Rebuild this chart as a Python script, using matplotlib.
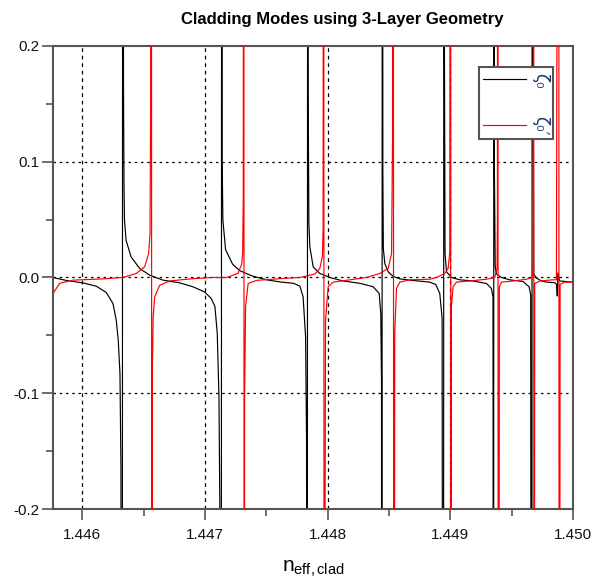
import matplotlib
matplotlib.use('Agg')
import matplotlib.pyplot as plt
from matplotlib import font_manager
from matplotlib.ticker import MultipleLocator, FormatStrFormatter

# ---- data (y values of +/-1 mark the off-scale jump at a pole) ----
black_x = [1.445761, 1.445867, 1.446006, 1.446114, 1.446196, 1.446250, 1.446277, 1.446293,
           1.446307, 1.446315, 1.446325, 1.446330,
           1.446336, 1.446340, 1.446344, 1.446357, 1.446398, 1.446467, 1.446549, 1.446658,
           1.446793, 1.446901, 1.446996, 1.447050, 1.447081, 1.447100, 1.447114, 1.447125,
           1.447132, 1.447137,
           1.447140, 1.447146, 1.447168, 1.447225, 1.447282, 1.447380, 1.447502, 1.447624,
           1.447722, 1.447774, 1.447800, 1.447820, 1.447828, 1.447833, 1.447838,
           1.447841, 1.447847, 1.447855, 1.447882, 1.447936, 1.448018, 1.448126, 1.448262,
           1.448371, 1.448420, 1.448433, 1.448439, 1.448442, 1.448446,
           1.448450, 1.448454, 1.448466, 1.448493, 1.448534, 1.448588, 1.448670, 1.448833,
           1.448881, 1.448914, 1.448933, 1.448943, 1.448949,
           1.448952, 1.448957, 1.448969, 1.449009, 1.449077, 1.449185, 1.449295, 1.449335,
           1.449348, 1.449352, 1.449356,
           1.449358, 1.449366, 1.449376, 1.449417, 1.449484, 1.449593, 1.449642, 1.449655,
           1.449664, 1.449668,
           1.449671, 1.449674, 1.449680, 1.449702, 1.449743, 1.449783, 1.449851, 1.449866,
           1.449872, 1.449877, 1.449891, 1.450000]
black_y = [0.0, -0.0025, -0.0047, -0.0075, -0.013, -0.0225, -0.037, -0.054,
           -0.083, -0.164, -1.0, 1.0,
           0.159, 0.078, 0.0495, 0.032, 0.0178, 0.0078, 0.002, -0.0023,
           -0.0046, -0.008, -0.0124, -0.018, -0.025, -0.048, -0.103, -0.25,
           -1.0, 1.0,
           0.101, 0.0495, 0.024, 0.0115, 0.006, 0.0015, -0.002, -0.004,
           -0.005, -0.0075, -0.0168, -0.051, -0.14, -1.0, 1.0,
           0.163, 0.047, 0.0265, 0.0092, 0.0035, 0.0, -0.003, -0.005,
           -0.008, -0.0138, -0.031, -0.089, -1.0, 1.0,
           0.0927, 0.025, 0.012, 0.0049, 0.001, -0.0012, -0.0023, -0.004,
           -0.006, -0.0138, -0.035, -1.0, 1.0,
           0.198, 0.0207, 0.0049, 0.0, -0.002, -0.003, -0.0052, -0.0095,
           -0.0168, -1.0, 1.0,
           0.110, 0.0092, 0.003, 0.0, -0.002, -0.0035, -0.008, -0.015,
           -1.0, 1.0,
           0.25, 0.25, 0.003, -0.0005, -0.003, -0.004, -0.0045, -0.006,
           -0.016, 0.004, -0.003, -0.004]

red_x = [1.445761, 1.445816, 1.445924, 1.446169, 1.446332, 1.446440, 1.446508, 1.446541,
         1.446552, 1.446557, 1.446562, 1.446568,
         1.446570, 1.446578, 1.446590, 1.446631, 1.446712, 1.446902, 1.447065, 1.447176,
         1.447269, 1.447299, 1.447307, 1.447312, 1.447316, 1.447320,
         1.447323, 1.447331, 1.447352, 1.447421, 1.447611, 1.447774, 1.447896, 1.447936,
         1.447957, 1.447963, 1.447967, 1.447972,
         1.447977, 1.447983, 1.448004, 1.448045, 1.448181, 1.448317, 1.448425, 1.448493,
         1.448521, 1.448529, 1.448534, 1.448540,
         1.448547, 1.448561, 1.448588, 1.448670, 1.448833, 1.448887, 1.448955, 1.448982,
         1.448996, 1.449001, 1.449006,
         1.449009, 1.449022, 1.449050, 1.449158, 1.449295, 1.449362, 1.449381, 1.449384,
         1.449387, 1.449391,
         1.449400, 1.449417, 1.449511, 1.449620, 1.449669, 1.449676, 1.449679, 1.449682,
         1.449688, 1.449729, 1.449837, 1.449865, 1.449883, 1.449888,
         1.449895, 1.449932, 1.450000]
red_y = [-0.0138, -0.005, -0.0023, -0.0012, 0.0, 0.0035, 0.0092, 0.0207,
         0.038, 0.147, 1.0, -1.0,
         -0.086, -0.034, -0.0168, -0.0067, -0.003, -0.001, 0.0, 0.0,
         0.0035, 0.0115, 0.0207, 0.0674, 1.0, -1.0,
         -0.1046, -0.025, -0.0052, -0.0025, -0.001, 0.0, 0.003, 0.0078,
         0.018, 0.042, 1.0, -1.0,
         -0.3, -0.037, -0.008, -0.004, -0.002, 0.0, 0.0035, 0.0078,
         0.0207, 0.1215, 1.0, -1.0,
         -0.048, -0.0095, -0.004, -0.002, -0.0015, 0.0, 0.0035, 0.0078,
         0.022, 1.0, -1.0,
         -0.025, -0.008, -0.004, -0.003, -0.0015, 0.0, 0.0078, 0.052,
         1.0, -1.0,
         -0.008, -0.004, -0.003, -0.0015, 0.0, 0.01, 1.0, -1.0,
         -0.0052, -0.003, -0.002, -0.002, 1.0, -1.0,
         -0.006, -0.004, -0.004]

x_ticks = [1.446, 1.447, 1.448, 1.449, 1.450]
y_ticks = [-0.2, -0.1, 0.0, 0.1, 0.2]
x_range = [1.445761, 1.450]
y_range = [-0.2, 0.2]
title_text = "Cladding Modes using 3-Layer Geometry"
xlabel_text = r"n$_{\mathregular{eff,clad}}$"
series_labels = ["ζ₀", "ζ₀′"]

# ---- styling ----
plt.rcParams['axes.unicode_minus'] = False
avail = {f.name for f in font_manager.fontManager.ttflist}
base_font = 'Liberation Sans' if 'Liberation Sans' in avail else 'DejaVu Sans'
title_font = 'Liberation Sans Narrow' if 'Liberation Sans Narrow' in avail else base_font
plt.rcParams['font.family'] = [base_font, 'DejaVu Sans']
plt.rcParams['mathtext.fontset'] = 'custom'
plt.rcParams['mathtext.rm'] = base_font
plt.rcParams['mathtext.it'] = base_font

spine_col = '#555555'
fig = plt.figure(figsize=(5.92, 5.85), dpi=100)
ax = fig.add_axes([0.0895, 0.1299, 0.8784, 0.7915])

for v in x_ticks[:-1]:
    ax.axvline(v, color='black', lw=0.9, ls=(0, (3, 3)), zorder=1)
for v in y_ticks[1:-1]:
    ax.axhline(v, color='black', lw=0.9, ls=(0, (2, 3)), zorder=1)

l1, = ax.plot(black_x, black_y, color='black', lw=0.85, zorder=2)
l2, = ax.plot(red_x, red_y, color='#ff0000', lw=0.85, zorder=3)

ax.set_xlim(x_range)
ax.set_ylim(y_range)
ax.set_xticks(x_ticks)
ax.set_yticks(y_ticks)
ax.xaxis.set_minor_locator(MultipleLocator(0.0005))
ax.yaxis.set_minor_locator(MultipleLocator(0.05))
ax.xaxis.set_major_formatter(FormatStrFormatter('%.3f'))
ax.yaxis.set_major_formatter(FormatStrFormatter('%.1f'))
ax.tick_params(which='major', direction='out', length=8, width=1.2, color=spine_col,
               labelsize=11, labelcolor='#111111')
ax.tick_params(which='minor', direction='out', length=5, width=1.2, color=spine_col)
ax.tick_params(axis='x', which='major', pad=6)
ax.tick_params(axis='y', which='major', pad=2)
for s in ax.spines.values():
    s.set_color(spine_col)
    s.set_linewidth(1.5)

fig.text(0.578, 0.966, title_text, ha='center', va='center', fontsize=12,
         fontweight='bold', family=[title_font, 'DejaVu Sans'])
ax.set_xlabel(xlabel_text, fontsize=15, labelpad=12)

leg = ax.legend([l1, l2], series_labels, loc='upper right',
                bbox_to_anchor=(0.962, 0.955), borderaxespad=0, frameon=True,
                fancybox=False, framealpha=1, edgecolor=spine_col, handlelength=2.6,
                handletextpad=0.3, labelspacing=1.6, borderpad=0.25,
                prop={'family': ['DejaVu Sans'], 'size': 12})
leg.get_frame().set_linewidth(1.5)
for t in leg.get_texts():
    t.set_rotation(-90)
    t.set_color('#1a3a6a')

fig.savefig('out.png', dpi=100)
